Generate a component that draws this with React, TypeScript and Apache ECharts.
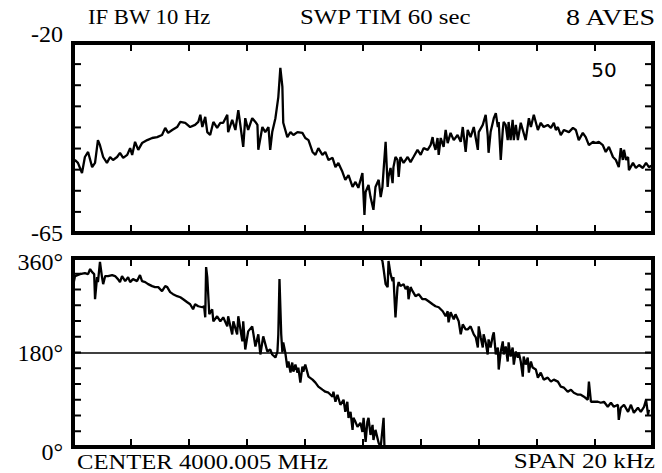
import React, { useEffect, useRef } from 'react';
import * as echarts from 'echarts';

// Frequency offset from centre (kHz), magnitude (dB)
const magnitudeTrace: [number, number][] = [
  [-10.00,-48.4],[-9.93,-47.7],[-9.83,-48.4],[-9.69,-50.8],[-9.59,-47.0],[-9.48,-45.8],[-9.34,-49.4],[-9.24,-48.4],[-9.14,-43.0],[-9.07,-44.2],
  [-8.96,-47.0],[-8.83,-48.4],[-8.72,-47.0],[-8.62,-47.7],[-8.48,-47.0],[-8.38,-46.0],[-8.27,-47.2],[-8.13,-46.5],[-8.03,-44.9],[-7.96,-46.5],
  [-7.86,-43.4],[-7.75,-45.3],[-7.62,-43.7],[-7.44,-43.0],[-7.27,-42.5],[-7.10,-42.3],[-6.93,-41.8],[-6.82,-40.1],[-6.72,-41.3],[-6.58,-40.6],
  [-6.41,-39.9],[-6.30,-38.7],[-6.13,-38.9],[-5.96,-39.9],[-5.79,-39.4],[-5.68,-38.7],[-5.61,-37.0],[-5.54,-39.9],[-5.44,-37.5],[-5.37,-41.1],
  [-5.27,-41.8],[-5.16,-38.7],[-5.03,-40.1],[-4.92,-38.9],[-4.82,-38.9],[-4.68,-37.0],[-4.65,-41.1],[-4.51,-38.2],[-4.40,-40.6],[-4.30,-35.9],
  [-4.23,-39.4],[-4.13,-44.6],[-4.06,-37.8],[-3.96,-40.6],[-3.82,-37.8],[-3.71,-38.7],[-3.64,-39.4],[-3.61,-45.3],[-3.47,-39.9],[-3.37,-41.1],
  [-3.26,-39.9],[-3.20,-45.3],[-3.13,-41.1],[-3.02,-37.8],[-2.92,-32.8],[-2.85,-25.9],[-2.78,-30.4],[-2.75,-38.9],[-2.61,-42.3],[-2.50,-41.1],
  [-2.40,-41.8],[-2.26,-41.1],[-2.09,-41.3],[-1.99,-42.5],[-1.88,-43.0],[-1.74,-45.8],[-1.64,-46.5],[-1.54,-44.9],[-1.40,-46.5],[-1.30,-45.8],
  [-1.19,-47.7],[-1.05,-47.2],[-0.95,-49.4],[-0.85,-48.4],[-0.71,-50.5],[-0.61,-52.4],[-0.50,-51.3],[-0.36,-54.1],[-0.26,-52.9],[-0.16,-54.3],
  [-0.02,-50.8],[0.05,-60.7],[0.09,-55.3],[0.19,-53.6],[0.26,-56.5],[0.36,-59.5],[0.43,-54.1],[0.54,-52.4],[0.61,-56.5],[0.67,-54.1],
  [0.71,-50.1],[0.78,-43.4],[0.85,-54.1],[0.88,-51.7],[0.95,-49.6],[1.02,-53.2],[1.05,-49.4],[1.12,-47.0],[1.19,-47.7],[1.23,-51.7],
  [1.29,-47.0],[1.40,-48.4],[1.54,-47.0],[1.64,-48.2],[1.74,-47.0],[1.88,-45.3],[1.99,-46.5],[2.09,-44.9],[2.23,-45.3],[2.33,-44.2],
  [2.40,-42.3],[2.43,-43.7],[2.50,-45.3],[2.57,-42.5],[2.61,-46.5],[2.68,-42.5],[2.78,-44.6],[2.85,-40.6],[2.92,-43.7],[3.02,-41.3],
  [3.13,-43.0],[3.26,-41.8],[3.37,-43.4],[3.44,-39.9],[3.54,-45.8],[3.61,-40.6],[3.71,-42.3],[3.82,-39.9],[3.96,-45.3],[3.99,-41.1],
  [4.13,-39.4],[4.23,-37.0],[4.30,-41.8],[4.33,-46.0],[4.40,-41.1],[4.51,-37.8],[4.58,-36.6],[4.65,-39.9],[4.68,-38.7],[4.75,-47.7],
  [4.82,-40.6],[4.85,-38.7],[4.92,-39.4],[4.99,-43.0],[5.02,-38.7],[5.09,-43.0],[5.16,-38.2],[5.20,-43.0],[5.27,-39.4],[5.34,-43.0],
  [5.44,-38.9],[5.51,-40.6],[5.61,-43.0],[5.72,-37.8],[5.79,-39.9],[5.89,-37.0],[6.03,-40.6],[6.13,-38.9],[6.23,-39.9],[6.37,-39.4],
  [6.48,-40.1],[6.58,-38.9],[6.65,-40.6],[6.72,-39.9],[6.82,-41.8],[6.93,-40.6],[7.10,-41.1],[7.24,-40.1],[7.34,-40.6],[7.44,-43.0],
  [7.58,-41.3],[7.68,-42.3],[7.79,-44.2],[7.93,-43.4],[8.03,-43.7],[8.13,-43.4],[8.27,-44.2],[8.37,-45.8],[8.48,-44.6],[8.62,-47.0],
  [8.72,-47.7],[8.82,-49.4],[8.89,-44.9],[8.96,-47.7],[9.00,-45.3],[9.07,-47.7],[9.14,-47.0],[9.17,-50.1],[9.31,-48.4],[9.41,-49.6],
  [9.52,-48.9],[9.65,-49.6],[9.76,-48.4],[9.86,-49.4],[10.00,-48.9],
];

// Frequency offset (kHz), phase (degrees) - branch before the wrap
const phaseTraceLow: [number, number][] = [
  [-10.00,306.4],[-9.93,325.6],[-9.76,329.4],[-9.59,331.3],[-9.48,329.4],[-9.41,339.0],[-9.34,333.2],[-9.27,329.4],[-9.24,281.5],[-9.17,323.6],
  [-9.14,314.1],[-9.07,352.4],[-9.00,323.6],[-8.96,310.2],[-8.89,325.6],[-8.79,325.6],[-8.65,327.5],[-8.55,325.6],[-8.45,319.8],[-8.38,314.1],
  [-8.31,325.6],[-8.20,316.0],[-8.10,323.6],[-8.03,314.1],[-7.93,319.8],[-7.79,316.0],[-7.69,327.5],[-7.62,316.0],[-7.51,314.1],[-7.41,310.2],
  [-7.27,306.4],[-7.17,304.5],[-7.06,304.5],[-6.93,296.8],[-6.82,306.4],[-6.75,304.5],[-6.65,294.9],[-6.55,291.1],[-6.41,287.3],[-6.30,285.3],
  [-6.20,281.5],[-6.06,275.8],[-5.96,271.9],[-5.86,262.4],[-5.79,271.9],[-5.68,268.1],[-5.54,266.2],[-5.48,268.1],[-5.44,247.0],[-5.41,342.8],
  [-5.37,323.6],[-5.30,252.8],[-5.20,262.4],[-5.16,239.4],[-5.03,249.0],[-4.92,239.4],[-4.82,247.0],[-4.68,229.8],[-4.65,249.0],[-4.51,214.5],
  [-4.47,239.4],[-4.34,214.5],[-4.30,249.0],[-4.16,201.1],[-4.13,239.4],[-4.06,185.8],[-3.96,220.2],[-3.82,229.8],[-3.71,191.5],[-3.61,214.5],
  [-3.54,176.2],[-3.44,210.7],[-3.30,181.9],[-3.20,185.8],[-3.13,176.2],[-3.02,170.4],[-2.95,181.9],[-2.92,214.5],[-2.88,319.8],[-2.82,214.5],
  [-2.78,180.0],[-2.75,199.2],[-2.68,180.0],[-2.61,151.3],[-2.57,162.8],[-2.50,141.7],[-2.44,160.9],[-2.40,143.6],[-2.33,157.0],[-2.26,141.7],
  [-2.23,151.3],[-2.16,122.6],[-2.09,153.2],[-2.06,143.6],[-1.99,157.0],[-1.88,134.1],[-1.74,128.3],[-1.64,122.6],[-1.54,114.9],[-1.40,109.2],
  [-1.30,105.3],[-1.19,103.4],[-1.05,95.8],[-1.02,105.3],[-0.95,86.2],[-0.88,99.6],[-0.78,80.4],[-0.67,90.0],[-0.61,67.0],[-0.54,86.2],
  [-0.50,55.5],[-0.43,67.0],[-0.36,32.6],[-0.33,55.5],[-0.26,47.9],[-0.19,38.3],[-0.09,46.0],[-0.02,28.7],[0.02,55.5],[0.09,9.6],
  [0.15,47.9],[0.19,55.5],[0.26,23.0],[0.33,42.1],[0.36,13.4],[0.43,32.6],[0.54,7.7],[0.61,0.0],[0.71,55.5],[0.74,0.0],
];

// Frequency offset (kHz), phase (degrees) - branch after the wrap
const phaseTraceHigh: [number, number][] = [
  [0.61,360.0],[0.67,354.3],[0.71,339.0],[0.78,310.2],[0.85,304.5],[0.88,354.3],[0.95,329.4],[1.02,316.0],[1.05,323.6],[1.12,247.0],
  [1.19,304.5],[1.23,314.1],[1.29,306.4],[1.40,310.2],[1.47,300.7],[1.54,306.4],[1.57,281.5],[1.64,304.5],[1.71,296.8],[1.81,287.3],
  [1.92,291.1],[2.05,281.5],[2.16,281.5],[2.26,277.7],[2.40,271.9],[2.50,268.1],[2.61,266.2],[2.75,258.5],[2.85,249.0],[2.92,258.5],
  [2.95,237.5],[3.02,256.6],[3.13,243.2],[3.19,252.8],[3.30,239.4],[3.37,214.5],[3.44,233.6],[3.54,224.1],[3.61,224.1],[3.71,229.8],
  [3.82,214.5],[3.89,208.7],[3.96,189.6],[3.99,229.8],[4.06,208.7],[4.13,189.6],[4.16,214.5],[4.23,199.2],[4.30,176.2],[4.33,204.9],
  [4.40,189.6],[4.47,210.7],[4.51,218.3],[4.58,176.2],[4.65,189.6],[4.68,147.5],[4.75,181.9],[4.82,201.1],[4.85,176.2],[4.92,191.5],
  [4.99,162.8],[5.02,199.2],[5.09,172.4],[5.16,189.6],[5.20,157.0],[5.27,181.9],[5.34,170.4],[5.37,180.0],[5.44,162.8],[5.51,134.1],
  [5.54,172.4],[5.61,157.0],[5.68,170.4],[5.72,141.7],[5.79,162.8],[5.85,151.3],[5.96,147.5],[6.03,132.1],[6.13,141.7],[6.23,128.3],
  [6.37,132.1],[6.48,124.5],[6.58,128.3],[6.72,124.5],[6.82,114.9],[6.93,113.0],[7.06,105.3],[7.17,109.2],[7.27,103.4],[7.41,99.6],
  [7.51,99.6],[7.62,95.8],[7.75,90.0],[7.79,124.5],[7.86,86.2],[7.96,86.2],[8.10,86.2],[8.20,84.3],[8.31,86.2],[8.44,76.6],
  [8.55,84.3],[8.65,76.6],[8.79,80.4],[8.82,51.7],[8.89,74.7],[9.00,80.4],[9.14,67.0],[9.24,80.4],[9.34,65.1],[9.48,74.7],
  [9.58,67.0],[9.69,76.6],[9.76,90.0],[9.83,61.3],[9.86,70.9],
];

// Graticule tick positions (frequency kHz, magnitude dB, phase degrees)
const freqTicks = [-8, -6, -4, -2, 0, 2, 4, 6, 8];
const magnitudeTicks = [-60, -55, -50, -45, -40, -35, -30, -25];
const phaseTicks = [30, 60, 90, 120, 150, 180, 210, 240, 270, 300, 330];

const magnitudeTickLabels: Record<string, string> = { '-20': '-20', '-65': '-65' };
const phaseTickLabels: Record<string, string> = { '0': '0°', '180': '180°', '360': '360°' };
const phaseReferenceLevel = 180;

const headerLeft = 'IF BW 10 Hz';
const headerMid = 'SWP TIM 60 sec';
const headerRight = '8 AVES';
const markerText = '50';
const footerLeft = 'CENTER 4000.005 MHz';
const footerRight = 'SPAN 20 kHz';

const FREQ_MIN = -10, FREQ_MAX = 10;
const MAG_MIN = -65, MAG_MAX = -20;
const PH_MIN = 0, PH_MAX = 360;

export default function App() {
  const ref = useRef<HTMLDivElement>(null);
  useEffect(() => {
    document.body.style.margin = '0';
    const chart = echarts.init(ref.current!, null, { renderer: 'svg' });
    const serif = 'Liberation Serif';
    const TICK_PX = 8;
    const frameLine = () => ({ show: true, onZero: false, lineStyle: { color: '#000', width: 4, cap: 'square' } });
    const xAx = (gridIndex: number, position: string) => ({
      gridIndex, type: 'value', min: FREQ_MIN, max: FREQ_MAX, interval: 2, position,
      axisLine: frameLine(), axisTick: { show: false }, axisLabel: { show: false }, splitLine: { show: false },
    });
    const labelFont = { color: '#000', fontFamily: serif, fontSize: 24 };
    const rich = {
      up: { ...labelFont, padding: [0, 0, 18, 0] },
      down: { ...labelFont, padding: [10, 0, 0, 0] },
      down2: { ...labelFont, padding: [8, 0, 0, 0] },
      n: { ...labelFont },
    };
    const styleFor: Record<string, string> = { '-20': 'up', '0': 'down', '360': 'down2' };
    const yAx = (gridIndex: number, position: string, min: number, max: number, interval: number, labels?: Record<string, string>) => ({
      gridIndex, type: 'value', min, max, interval, position,
      axisLine: frameLine(), axisTick: { show: false }, splitLine: { show: false },
      axisLabel: labels
        ? {
            show: true, showMinLabel: true, showMaxLabel: true, margin: 10, ...labelFont, rich,
            formatter: (v: number) => {
              const k = String(Math.round(v));
              const t = labels[k];
              if (!t) return '';
              return `{${styleFor[k] ?? 'n'}|${t}}`;
            },
          }
        : { show: false },
    });
    const traceStyle = { color: '#000', width: 2.3 };
    const txt = (text: string, x: number, y: number, align: string, size: number, scaleX = 1, vAlign = 'middle', family = serif) => ({
      type: 'text', x, y, scaleX, z: 100,
      style: { text, fill: '#000', font: `${size}px "${family}"`, textAlign: align, textVerticalAlign: vAlign },
    });
    const texts = [
      txt(headerLeft, 88, 17, 'left', 22, 1.03),
      txt(headerMid, 300, 17, 'left', 22, 1.13),
      txt(headerRight, 655, 17, 'right', 23, 1.22),
      txt(markerText, 604, 70, 'center', 20, 1, 'middle', 'DejaVu Sans'),
      txt(footerLeft, 77, 472, 'left', 22, 1.12, 'bottom'),
      txt(footerRight, 655, 472, 'right', 22, 1.14, 'bottom'),
    ];
    chart.setOption({
      animation: false,
      backgroundColor: '#fff',
      grid: [
        { left: 73, top: 43, width: 580, height: 190, show: false },
        { left: 73, top: 258, width: 580, height: 189, show: false },
      ],
      xAxis: [xAx(0, 'bottom'), xAx(0, 'top'), xAx(1, 'bottom'), xAx(1, 'top')],
      yAxis: [
        yAx(0, 'left', MAG_MIN, MAG_MAX, 5, magnitudeTickLabels),
        yAx(0, 'right', MAG_MIN, MAG_MAX, 5),
        yAx(1, 'left', PH_MIN, PH_MAX, 30, phaseTickLabels),
        yAx(1, 'right', PH_MIN, PH_MAX, 30),
      ],
      series: [
        {
          type: 'line', xAxisIndex: 0, yAxisIndex: 0, data: magnitudeTrace,
          showSymbol: false, symbol: 'none', lineStyle: traceStyle, clip: true,
        },
        {
          type: 'line', xAxisIndex: 2, yAxisIndex: 2, data: phaseTraceLow,
          showSymbol: false, symbol: 'none', lineStyle: traceStyle, clip: true,
          markLine: {
            silent: true, symbol: ['none', 'none'], label: { show: false },
            lineStyle: { color: '#000', width: 1.5, type: 'solid' },
            data: [{ yAxis: phaseReferenceLevel }],
          },
        },
        {
          type: 'line', xAxisIndex: 2, yAxisIndex: 2, data: phaseTraceHigh,
          showSymbol: false, symbol: 'none', lineStyle: traceStyle, clip: true,
        },
      ],
      graphic: texts,
    });

    // Tick marks: positions converted through each panel's own axes, drawn inward from the frame
    const tickLines: any[] = [];
    const seg = (x1: number, y1: number, x2: number, y2: number) => ({
      type: 'line', z: 100, silent: true,
      shape: { x1, y1, x2, y2 },
      style: { stroke: '#000', lineWidth: 2 },
    });
    const addPanelTicks = (xIdx: number, yIdx: number, yMin: number, yMax: number, yTicks: number[]) => {
      const finder = { xAxisIndex: xIdx, yAxisIndex: yIdx };
      freqTicks.forEach((v) => {
        const b = chart.convertToPixel(finder as any, [v, yMin]) as number[];
        const t = chart.convertToPixel(finder as any, [v, yMax]) as number[];
        tickLines.push(seg(b[0], b[1], b[0], b[1] - TICK_PX));
        tickLines.push(seg(t[0], t[1], t[0], t[1] + TICK_PX));
      });
      yTicks.forEach((v) => {
        const l = chart.convertToPixel(finder as any, [FREQ_MIN, v]) as number[];
        const r = chart.convertToPixel(finder as any, [FREQ_MAX, v]) as number[];
        tickLines.push(seg(l[0], l[1], l[0] + TICK_PX, l[1]));
        tickLines.push(seg(r[0], r[1], r[0] - TICK_PX, r[1]));
      });
    };
    addPanelTicks(0, 0, MAG_MIN, MAG_MAX, magnitudeTicks);
    addPanelTicks(2, 2, PH_MIN, PH_MAX, phaseTicks);
    chart.setOption({ graphic: [...texts, ...tickLines] });

    return () => chart.dispose();
  }, []);
  return <div ref={ref} style={{ width: 662, height: 473, background: '#fff' }} />;
}
